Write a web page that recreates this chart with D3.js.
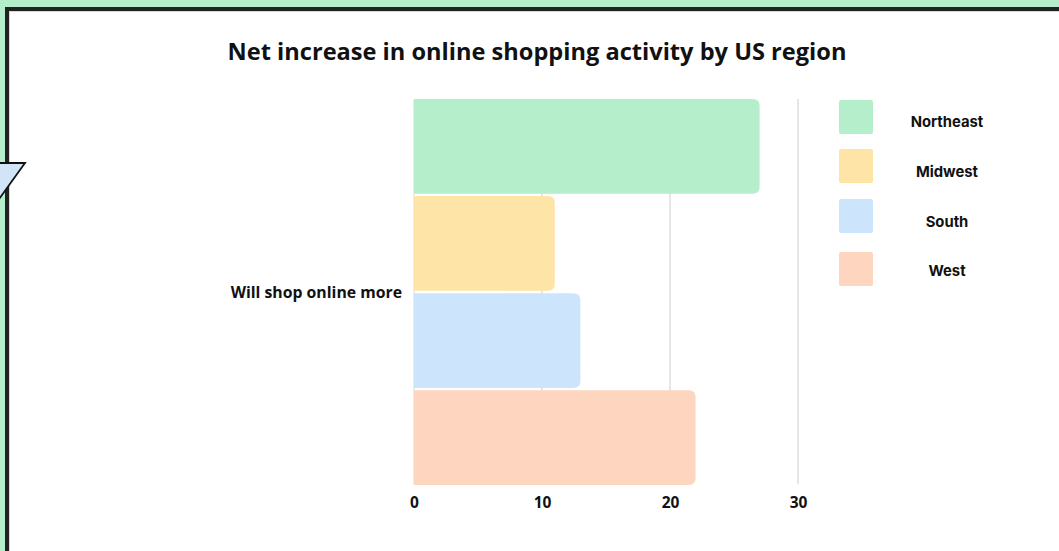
<!DOCTYPE html>
<html>
<head>
<meta charset="utf-8">
<script src="https://cdn.jsdelivr.net/npm/d3@7"></script>
<style>
  html, body { margin: 0; padding: 0; background: #b5eecb; }
  svg { display: block; }
</style>
</head>
<body>
<svg id="chart" width="1059" height="551"></svg>
<script>
// Chart data
const categories = ["Will shop online more"];
const regions = ["Northeast", "Midwest", "South", "West"];
const values = [27, 11, 13, 22];
const colors = ["#b5eecb", "#ffe4a8", "#cce5fd", "#fed6c0"];
const xTicks = [0, 10, 20, 30];
const title = "Net increase in online shopping activity by US region";

const svg = d3.select("#chart");
const W = 1059, H = 551;

// Frame: green page, dark card border, white card
svg.append("rect").attr("x", 0).attr("y", 0).attr("width", W).attr("height", H).attr("fill", "#b5eecb");
svg.append("rect").attr("x", 5).attr("y", 7).attr("width", W + 20).attr("height", H + 20).attr("fill", "#222222");
svg.append("rect").attr("x", 9).attr("y", 11).attr("width", W + 20).attr("height", H + 20).attr("fill", "#d8d8d8");
svg.append("rect").attr("x", 10).attr("y", 12).attr("width", W + 20).attr("height", H + 20).attr("fill", "#ffffff");

// Decorative tail shape at left edge
svg.append("polygon")
  .attr("points", "-3,163 25,163 -3,202")
  .attr("fill", "#d2e4f7")
  .attr("stroke", "#111")
  .attr("stroke-width", 1.8);

// Title
svg.append("text")
  .attr("x", 537).attr("y", 60)
  .attr("text-anchor", "middle")
  .attr("font-family", "'Open Sans', sans-serif")
  .attr("font-weight", 700)
  .attr("font-size", 23.6)
  .attr("fill", "#111")
  .text(title);

// Scales
const x = d3.scaleLinear().domain([0, 30]).range([414, 798]);
const yCat = d3.scaleBand().domain(categories).range([99, 485]);
const yReg = d3.scaleBand().domain(regions).range([0, yCat.bandwidth()]).paddingInner(0.025);

// Gridlines
const grid = svg.append("g");
grid.selectAll("line").data(xTicks).join("line")
  .attr("x1", d => x(d)).attr("x2", d => x(d))
  .attr("y1", 99).attr("y2", 484)
  .attr("stroke", d => d === 0 ? "#e6e6e6" : "#dcdcdc")
  .attr("stroke-width", 1.5);

// Bars with rounded right ends
function barPath(x0, x1, y0, h, r) {
  const rr = Math.min(r, (x1 - x0) / 2, h / 2);
  return `M${x0},${y0}H${x1 - rr}Q${x1},${y0} ${x1},${y0 + rr}V${y0 + h - rr}Q${x1},${y0 + h} ${x1 - rr},${y0 + h}H${x0}Z`;
}

const data = regions.map((r, i) => ({ region: r, value: values[i], color: colors[i], cat: categories[0] }));
svg.append("g").selectAll("path").data(data).join("path")
  .attr("d", d => barPath(x(0), x(d.value), yCat(d.cat) + yReg(d.region), yReg.bandwidth(), 7))
  .attr("fill", d => d.color);

// X axis tick labels
const xAxis = d3.axisBottom(x).tickValues(xTicks).tickSize(0).tickPadding(0);
const gx = svg.append("g").attr("transform", "translate(0,490)").call(xAxis);
gx.select(".domain").remove();
gx.selectAll("text")
  .attr("font-family", "'Open Sans', sans-serif")
  .attr("font-weight", 700)
  .attr("font-size", 15.5)
  .attr("fill", "#111")
  .attr("dy", 17.5);

// Category label
const yAxis = d3.axisLeft(yCat).tickSize(0).tickPadding(12);
const gy = svg.append("g").attr("transform", `translate(${x(0)},0.5)`).call(yAxis);
gy.select(".domain").remove();
gy.selectAll("text")
  .attr("font-family", "'Open Sans', sans-serif")
  .attr("font-weight", 700)
  .attr("font-size", 15.8)
  .attr("fill", "#111");

// Legend: swatches and their labels
const legendY = [100, 149, 199, 252];
const legendTextY = [127, 176.5, 226.5, 275.5];
const legend = svg.append("g");
legend.selectAll("rect").data(data).join("rect")
  .attr("x", 839).attr("y", (d, i) => legendY[i])
  .attr("width", 34).attr("height", 34).attr("rx", 2)
  .attr("fill", d => d.color);
legend.selectAll("text").data(data).join("text")
  .attr("x", 947).attr("y", (d, i) => legendTextY[i])
  .attr("text-anchor", "middle")
  .attr("font-family", "Inter, sans-serif")
  .attr("font-weight", 700)
  .attr("font-size", 14.8)
  .attr("fill", "#111")
  .text(d => d.region);
</script>
</body>
</html>
